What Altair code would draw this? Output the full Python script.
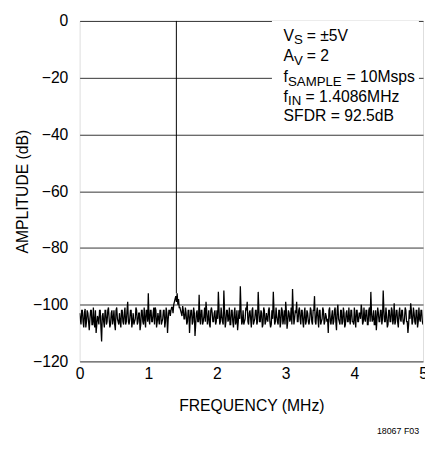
import altair as alt
import pandas as pd

# FFT amplitude (dB): even bins and the bins between them
amp_even = [
    -103, -107, -102, -108, -101.5, -106, -103, -109, -102, -107,
    -101, -108, -110, -104, -107, -102, -113, -103, -108, -102,
    -106, -101, -108, -103, -107, -102, -109, -101, -106, -103,
    -108, -102, -107, -101, -106, -99, -107, -102, -108, -103,
    -106, -101, -107, -103, -109, -102, -106, -101, -108, -102,
    -96, -107, -102, -106, -101, -101, -108, -103, -107, -102,
    -106, -102, -108, -101, -110, -102, -104, -101, -103, -99,
    -97, -96, -98, -101, -103, -100.5, -105, -101, -107, -102,
    -110, -102, -107, -101, -111, -103, -106, -96.5, -107, -102,
    -106, -101, -99, -107, -102, -108, -101, -106, -103, -107,
    -102, -95.5, -107, -101, -106, -95, -108, -102, -106, -101,
    -107, -102, -108, -101, -106, -109, -102, -93.5, -107, -102,
    -106, -101, -99, -107, -102, -108, -101, -106, -102, -107,
    -95.5, -106, -102, -108, -101, -107, -103, -106, -101, -108,
    -102, -95.5, -107, -101, -106, -102, -108, -101, -107, -102,
    -99, -108.5, -102, -106, -101, -94.5, -107, -102, -99, -106,
    -101, -107, -102, -108, -101, -106, -103, -107, -101, -106,
    -102, -97, -107, -101, -108, -102, -106, -101, -107, -103,
    -106, -110, -101, -107, -102, -106, -101, -109, -100, -106,
    -102, -107, -101, -108, -103, -106, -101, -107, -102, -106,
    -101, -108, -102, -106, -103, -100, -107, -101, -106, -102,
    -107, -101, -95.5, -106, -102, -107, -109, -101, -106, -102,
    -107, -95, -106, -101, -108, -102, -106, -101, -107, -99.5,
    -106, -102, -108, -101, -106, -102, -107, -101, -106, -110,
    -102, -99.5, -107, -101, -106, -102, -108, -101, -106, -102,
    -107,
]
amp_odd = [
    -105, -102, -106, -103, -108, -102, -106, -105, -102, -107,
    -106, -102, -107, -105, -102, -108, -104, -106, -102, -107,
    -102, -105, -107, -102, -105, -107, -102, -105, -107, -106,
    -102, -106, -103, -107, -102, -106, -105, -102, -106, -107,
    -105, -102, -106, -103, -107, -102, -107, -105, -102, -106,
    -105, -102, -106, -103, -107, -102, -106, -105, -102, -107,
    -105, -102, -106, -103, -105, -102, -102, -101, -100, -98,
    -99, -100, -101, -102, -104, -102, -105, -103, -106, -102,
    -105, -102, -106, -103, -107, -102, -106, -105, -102, -107,
    -104, -106, -102, -105, -107, -102, -103, -106, -102, -106,
    -105, -102, -106, -104, -107, -102, -106, -102, -105, -107,
    -102, -106, -103, -107, -102, -106, -105, -102, -106, -107,
    -105, -102, -106, -103, -105, -102, -107, -105, -102, -106,
    -102, -106, -103, -107, -102, -106, -105, -102, -106, -107,
    -105, -102, -106, -104, -107, -102, -106, -102, -105, -107,
    -102, -106, -103, -105, -107, -102, -105, -103, -106, -102,
    -105, -102, -106, -103, -107, -102, -106, -105, -102, -107,
    -102, -106, -103, -105, -102, -107, -105, -102, -106, -104,
    -105, -102, -106, -104, -107, -102, -106, -102, -105, -107,
    -102, -106, -103, -107, -102, -106, -105, -102, -106, -107,
    -105, -102, -106, -103, -105, -102, -106, -105, -102, -107,
    -102, -106, -103, -105, -107, -102, -105, -103, -106, -102,
    -105, -102, -106, -104, -107, -102, -106, -102, -105, -107,
    -102, -106, -103, -105, -102, -106, -105, -102, -106, -107,
    -105, -102, -106, -103, -107, -102, -106, -105, -102, -106,
]
amplitude_db = []
for i in range(len(amp_even)):
    amplitude_db.append(amp_even[i])
    if i < len(amp_odd):
        amplitude_db.append(amp_odd[i])

F_MAX = 5.0
n_bins = len(amplitude_db)
freq_mhz = [i * F_MAX / (n_bins - 1) for i in range(n_bins)]

fund_freq = [1.4086]
fund_top = [0]
fund_base = [-96]

x_ticks = [0, 1, 2, 3, 4, 5]
y_ticks = [-120, -100, -80, -60, -40, -20, 0]

note_main = ["V", "A", "f", "f", "SFDR = 92.5dB"]
note_sub = ["S", "V", "SAMPLE", "IN", ""]
note_rest = ["= \u00b15V", "= 2", "= 10Msps", "= 1.4086MHz", ""]
note_y = [-6.9, -14.2, -21.4, -28.4, -35.3]
note_x0 = 2.97
sub_off = [10.7, 10.7, 4.45, 4.45, 0]   # px
rest_off = [23.5, 23.5, 64.0, 22.4, 0]  # px
PX_PER_MHZ = 70.0

FONT = "Liberation Sans"

rows = []
for i in range(len(note_main)):
    rows.append({"t": note_main[i], "x": note_x0, "y": note_y[i], "k": "main"})
    if note_sub[i]:
        rows.append({"t": note_sub[i], "x": note_x0 + sub_off[i] / PX_PER_MHZ, "y": note_y[i], "k": "sub"})
    if note_rest[i]:
        rows.append({"t": note_rest[i], "x": note_x0 + rest_off[i] / PX_PER_MHZ, "y": note_y[i], "k": "main"})
notes = pd.DataFrame(rows)

df = pd.DataFrame({"f": freq_mhz, "a": amplitude_db})
fund = pd.DataFrame({"f": fund_freq, "top": fund_top, "base": fund_base})
box = pd.DataFrame({"x1": [2.8], "x2": [4.94], "y1": [0], "y2": [-37.3]})

xs = alt.Scale(domain=[0, 5], nice=False, zero=False)
ys = alt.Scale(domain=[-120, 0], nice=False, zero=False)

x_axis = alt.Axis(values=x_ticks, format="d", grid=False, ticks=False, domain=False,
                  labelFont=FONT, labelFontSize=16, labelPadding=4, labelColor="black",
                  labelFlush=False, title="FREQUENCY (MHz)", titleFont=FONT,
                  titleFontSize=16, titleFontWeight="normal", titleColor="black",
                  titleX=175, titleY=50, titleBaseline="alphabetic")
y_axis = alt.Axis(values=y_ticks, grid=True, gridColor="#333333", gridWidth=1,
                  gridOpacity=1, ticks=False, domain=False,
                  labelFont=FONT, labelFontSize=16, labelPadding=12, labelColor="black",
                  title="AMPLITUDE (dB)", titleFont=FONT, titleFontSize=16,
                  titleFontWeight="normal", titleColor="black",
                  titleX=-58, titleY=173.5, titleBaseline="middle", titleAngle=270)

noise = alt.Chart(df).mark_line(color="black", strokeWidth=1.3, clip=True).encode(
    x=alt.X("f:Q", scale=xs, axis=x_axis),
    y=alt.Y("a:Q", scale=ys, axis=y_axis),
)

fund_line = alt.Chart(fund).mark_rule(color="black", strokeWidth=1).encode(
    x=alt.X("f:Q", scale=xs), y=alt.Y("top:Q", scale=ys), y2="base:Q"
)

box_rect = alt.Chart(box).mark_rect(color="white").encode(
    x=alt.X("x1:Q", scale=xs), x2="x2:Q", y=alt.Y("y1:Q", scale=ys), y2="y2:Q"
)

main_txt = alt.Chart(notes).transform_filter(alt.datum.k == "main").mark_text(
    font=FONT, fontSize=16, align="left", baseline="alphabetic", color="black"
).encode(x=alt.X("x:Q", scale=xs), y=alt.Y("y:Q", scale=ys), text="t:N")

sub_txt = alt.Chart(notes).transform_filter(alt.datum.k == "sub").mark_text(
    font=FONT, fontSize=13.5, align="left", baseline="alphabetic", color="black", dy=4
).encode(x=alt.X("x:Q", scale=xs), y=alt.Y("y:Q", scale=ys), text="t:N")

fig_id = alt.Chart(pd.DataFrame({"t": ["18067 F03"]})).mark_text(
    font=FONT, fontSize=9, align="right", baseline="alphabetic", color="black"
).encode(x=alt.value(346), y=alt.value(421), text="t:N")

chart = alt.layer(box_rect, noise, fund_line, main_txt, sub_txt, fig_id).properties(
    width=350, height=347,
    autosize=alt.AutoSizeParams(type="none"),
    padding={"left": 73, "top": 9, "right": 2, "bottom": 80},
).configure_view(stroke="black", strokeWidth=2).configure(background="white")

chart.save("out.html", embed_options={"renderer": "svg", "actions": False})
